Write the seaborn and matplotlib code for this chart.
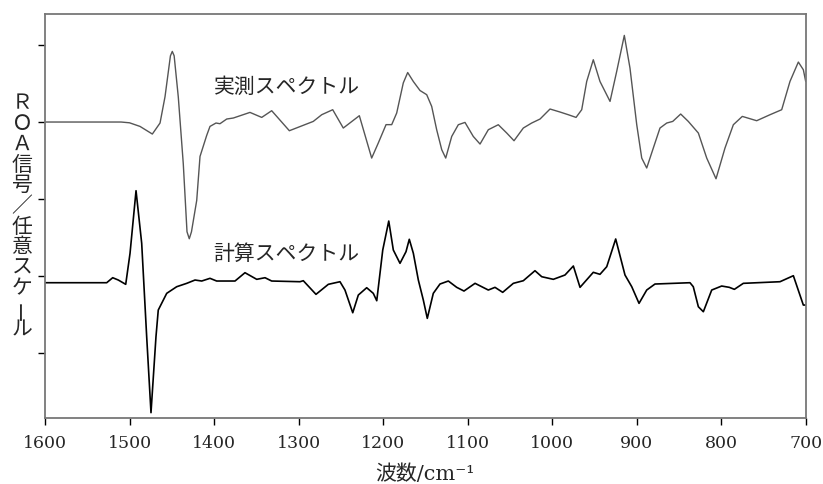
import numpy as np
import pandas as pd
import seaborn as sns
import matplotlib
matplotlib.use("Agg")
import matplotlib.pyplot as plt

# ---- data ----
obs_wn = [1600, 1510, 1500, 1487.6, 1473.0, 1463.9, 1458.0, 1451.6, 1449.4, 1447.2, 1442.3,
          1436.4, 1432.0, 1429.3, 1426.7, 1420.5, 1416.6, 1408.7, 1404.8, 1397.7, 1393.0,
          1385.0, 1377.2, 1357.5, 1343.6, 1331.8, 1310.9, 1282.6, 1272.6, 1259.6, 1247.1,
          1228.1, 1213.5, 1205.7, 1196.5, 1189.8, 1183.9, 1176.1, 1170.9, 1164.2, 1156.3,
          1148.4, 1142.5, 1136.6, 1130.6, 1125.9, 1118.8, 1111.0, 1103.1, 1093.3, 1085.3,
          1075.5, 1063.7, 1053.7, 1045.1, 1034.1, 1024.2, 1014.3, 1002.5, 990.7, 980.9,
          971.7, 965.0, 959.1, 951.3, 943.4, 931.5, 923.6, 914.6, 907.9, 899.9,
          894.0, 888.1, 880.3, 872.4, 864.4, 857.3, 847.9, 838.9, 827.0, 817.1,
          806.1, 795.5, 785.6, 775.0, 758.0, 742.2, 728.4, 718.6, 708.7, 702.8, 700]
obs_val = [0.0, 0.0, -0.01, -0.057, -0.156, -0.013, 0.329, 0.86, 0.917, 0.86, 0.325,
           -0.542, -1.425, -1.516, -1.425, -1.018, -0.447, -0.174, -0.057, -0.013, -0.022,
           0.039, 0.052, 0.125, 0.060, 0.147, -0.113, 0.008, 0.095, 0.160, -0.078,
           0.082, -0.468, -0.273, -0.034, -0.034, 0.117, 0.508, 0.643, 0.526, 0.409,
           0.355, 0.203, -0.100, -0.360, -0.468, -0.187, -0.035, -0.005, -0.187, -0.286,
           -0.100, -0.035, -0.143, -0.243, -0.078, -0.013, 0.039, 0.169, 0.130, 0.095,
           0.060, 0.160, 0.527, 0.809, 0.527, 0.268, 0.658, 1.125, 0.701, -0.035,
           -0.468, -0.597, -0.338, -0.078, -0.013, 0.008, 0.104, 0.008, -0.143, -0.468,
           -0.737, -0.338, -0.035, 0.073, 0.017, 0.095, 0.160, 0.527, 0.779, 0.679, 0.527]

calc_wn = [1600, 1527.0, 1519.9, 1513.3, 1504.5, 1499.4, 1492.3, 1485.6, 1479.7, 1474.6,
           1468.7, 1466.0, 1456.0, 1444.2, 1432.3, 1422.5, 1414.6, 1404.8, 1396.9, 1375.2,
           1363.4, 1349.5, 1339.7, 1331.8, 1298.3, 1294.4, 1279.4, 1264.8, 1251.0, 1245.1,
           1235.9, 1229.3, 1219.4, 1211.6, 1207.5, 1200.4, 1193.3, 1187.9, 1180.0, 1172.9,
           1169.0, 1164.2, 1158.3, 1152.4, 1147.7, 1140.6, 1132.7, 1122.8, 1112.9, 1104.3,
           1091.2, 1075.5, 1067.6, 1058.5, 1045.9, 1034.1, 1020.3, 1012.3, 998.6, 984.8,
           974.9, 967.0, 951.3, 943.4, 935.4, 924.8, 913.8, 905.8, 897.2, 888.1,
           878.3, 836.9, 833.0, 827.0, 821.1, 811.2, 799.4, 790.4, 784.4, 773.8,
           730.4, 714.6, 702.8, 700]
calc_val = [0.0, 0.0, 0.065, 0.035, -0.021, 0.382, 1.195, 0.512, -0.701, -1.688,
            -0.701, -0.355, -0.138, -0.052, -0.008, 0.035, 0.022, 0.057, 0.022, 0.022,
            0.130, 0.044, 0.065, 0.022, 0.013, 0.026, -0.151, -0.021, 0.013, -0.095,
            -0.390, -0.160, -0.065, -0.138, -0.234, 0.425, 0.801, 0.425, 0.252, 0.403,
            0.564, 0.382, 0.035, -0.225, -0.463, -0.138, -0.017, 0.022, -0.060, -0.108,
            -0.008, -0.095, -0.060, -0.125, -0.008, 0.026, 0.156, 0.078, 0.044, 0.100,
            0.217, -0.060, 0.135, 0.109, 0.208, 0.568, 0.100, -0.052, -0.268, -0.095,
            -0.017, 0.0, -0.052, -0.312, -0.377, -0.095, -0.043, -0.060, -0.086, -0.008,
            0.013, 0.091, -0.290, -0.290]

x_ticks = [1600, 1500, 1400, 1300, 1200, 1100, 1000, 900, 800, 700]
label_obs = "実測スペクトル"
label_calc = "計算スペクトル"
y_label = "ＲＯＡ信号／任意スケール"
x_label = "波数/cm⁻¹"

OBS_OFFSET = 3.0
CALC_OFFSET = 0.913

# ---- style ----
sns.set_style("white")
plt.rcParams['font.family'] = ['DejaVu Serif', 'Noto Sans CJK JP', 'DejaVu Sans']

fig = plt.figure(figsize=(8.23, 4.84), dpi=100)
ax = fig.add_axes([45 / 823, 1 - 418 / 484, (805.7 - 45) / 823, (418 - 14) / 484])

df_obs = pd.DataFrame({"wn": obs_wn, "val": np.array(obs_val) + OBS_OFFSET})
df_calc = pd.DataFrame({"wn": calc_wn, "val": np.array(calc_val) + CALC_OFFSET})

sns.lineplot(data=df_obs, x="wn", y="val", ax=ax, color="#555555", linewidth=1.0,
             sort=False, estimator=None)
sns.lineplot(data=df_calc, x="wn", y="val", ax=ax, color="black", linewidth=1.2,
             sort=False, estimator=None)

ax.set_xlim(1600, 700)
ax.set_ylim(-0.844, 4.403)
ax.set_xticks(x_ticks)
ax.set_xticklabels([str(t) for t in x_ticks], fontsize=12.5)
ax.set_yticks([0, 1, 2, 3, 4])
ax.set_yticklabels([])
ax.set_xlabel("")
ax.set_ylabel("")
ax.tick_params(axis='both', direction='out', length=5, width=1, color='black',
               left=True, bottom=True, pad=7)
for s in ax.spines.values():
    s.set_color('#777777')
    s.set_linewidth(1.3)

ax.text(1314, 3.455, label_obs, ha='center', va='center', fontsize=15)
ax.text(1314, 1.286, label_calc, ha='center', va='center', fontsize=15)

# vertical (tategaki) y label, one character per line
y0, step = 103.5, 20.6
for i, ch in enumerate(y_label):
    rot = 90 if ch == "ー" else 0
    fig.text(22 / 823, 1 - (y0 + i * step) / 484, ch, ha='center', va='center',
             fontsize=15, rotation=rot)

fig.text(425 / 823, 1 - 474 / 484, x_label, ha='center', va='center', fontsize=15)

fig.savefig("out.png", dpi=100)
